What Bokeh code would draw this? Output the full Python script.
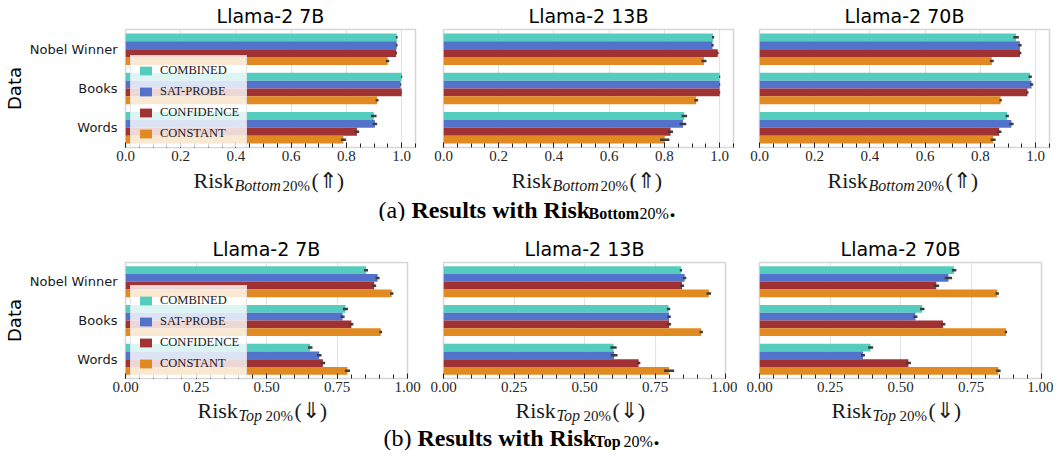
from bokeh.layouts import column, row
from bokeh.models import (ColumnDataSource, FixedTicker, Label, Legend, LegendItem,
                          PrintfTickFormatter, Range1d, SingleIntervalTicker)
from bokeh.plotting import figure
from bokeh.embed import file_html
from bokeh.resources import INLINE

# ---------------- data ----------------
categories = ["Nobel Winner", "Books", "Words"]
methods = ["Combined", "SAT-Probe", "Confidence", "Constant"]
legend_labels = ["COMBINED", "SAT-PROBE", "CONFIDENCE", "CONSTANT"]
colors = ["#55CDBE", "#5272CC", "#A03234", "#E08A21"]
models = ["Llama-2 7B", "Llama-2 13B", "Llama-2 70B"]

# rows = methods (Combined, SAT-Probe, Confidence, Constant); cols = categories
bottom_7b = [[0.982, 1.000, 0.899],
             [0.982, 0.996, 0.903],
             [0.980, 1.000, 0.838],
             [0.949, 0.911, 0.789]]
bottom_7b_err = [[0.003, 0.002, 0.010],
                 [0.003, 0.002, 0.008],
                 [0.003, 0.001, 0.008],
                 [0.006, 0.005, 0.009]]
bottom_13b = [[0.976, 1.000, 0.872],
              [0.974, 1.000, 0.867],
              [0.993, 1.000, 0.822],
              [0.943, 0.915, 0.801]]
bottom_13b_err = [[0.004, 0.002, 0.010],
                  [0.004, 0.002, 0.012],
                  [0.003, 0.002, 0.009],
                  [0.009, 0.007, 0.017]]
bottom_70b = [[0.929, 0.980, 0.897],
              [0.943, 0.985, 0.912],
              [0.943, 0.970, 0.868],
              [0.841, 0.873, 0.846]]
bottom_70b_err = [[0.010, 0.006, 0.006],
                  [0.006, 0.006, 0.008],
                  [0.005, 0.004, 0.008],
                  [0.007, 0.004, 0.009]]

top_7b = [[0.853, 0.780, 0.655],
          [0.894, 0.770, 0.687],
          [0.882, 0.801, 0.700],
          [0.944, 0.905, 0.787]]
top_7b_err = [[0.007, 0.009, 0.008],
              [0.007, 0.007, 0.008],
              [0.007, 0.007, 0.008],
              [0.006, 0.005, 0.009]]
top_13b = [[0.842, 0.798, 0.603],
           [0.855, 0.800, 0.605],
           [0.846, 0.800, 0.692],
           [0.941, 0.914, 0.800]]
top_13b_err = [[0.004, 0.006, 0.011],
               [0.006, 0.006, 0.012],
               [0.007, 0.007, 0.006],
               [0.008, 0.006, 0.018]]
top_70b = [[0.690, 0.577, 0.394],
           [0.670, 0.553, 0.367],
           [0.627, 0.651, 0.528],
           [0.843, 0.874, 0.847]]
top_70b_err = [[0.008, 0.008, 0.009],
               [0.013, 0.007, 0.007],
               [0.010, 0.008, 0.009],
               [0.006, 0.004, 0.008]]

bottom_ticks_fmt = "%.1f"
top_ticks_fmt = "%.2f"

SERIF = "Liberation Serif"
SANS = "DejaVu Sans"


def make_panel(title, vals, errs, xmax, interval, nminor, fmt, frame_w, frame_h,
               left, right, top, bottom, first, legend_loc):
    p = figure(frame_width=frame_w, frame_height=frame_h,
               x_range=Range1d(0, xmax), y_range=Range1d(2.5, -0.5),
               output_backend="svg", toolbar_location=None, title=title,
               min_border_left=left, min_border_right=right,
               min_border_top=top, min_border_bottom=bottom)
    p.title.align = "center"
    p.title.text_font = SANS
    p.title.text_font_size = "19px"
    p.title.text_font_style = "normal"
    p.title.text_color = "black"
    p.title.standoff = 5

    p.outline_line_color = "#d6d6d6"
    p.outline_line_width = 1.5
    p.background_fill_color = "white"
    p.ygrid.visible = False
    p.xgrid.grid_line_color = "#e3e3e3"
    p.xgrid.grid_line_width = 1.2

    p.xaxis.ticker = SingleIntervalTicker(interval=interval, num_minor_ticks=nminor)
    p.xaxis.formatter = PrintfTickFormatter(format=fmt)
    p.xaxis.axis_line_color = None
    p.xaxis.major_tick_in = 5
    p.xaxis.major_tick_out = 0
    p.xaxis.minor_tick_in = 4
    p.xaxis.minor_tick_out = 0
    p.xaxis.major_tick_line_color = "#222222"
    p.xaxis.minor_tick_line_color = "#222222"
    p.xaxis.major_label_text_font = SERIF
    p.xaxis.major_label_text_font_size = "15px"
    p.xaxis.major_label_text_color = "#262626"
    p.xaxis.major_label_standoff = 3

    p.yaxis.axis_line_color = None
    p.yaxis.major_tick_line_color = None
    p.yaxis.minor_tick_line_color = None
    if first:
        p.yaxis.ticker = FixedTicker(ticks=[0, 1, 2])
        p.yaxis.major_label_overrides = {i: c for i, c in enumerate(categories)}
        p.yaxis.major_label_standoff = 2
        p.yaxis.major_label_text_font = SANS
        p.yaxis.major_label_text_font_size = "13px"
        p.yaxis.major_label_text_color = "#1a1a1a"
        p.yaxis.axis_label = "Data"
        p.yaxis.axis_label_text_font = SANS
        p.yaxis.axis_label_text_font_size = "18px"
        p.yaxis.axis_label_text_font_style = "normal"
        p.yaxis.axis_label_text_color = "black"
        p.yaxis.axis_label_standoff = 2
    else:
        p.yaxis.ticker = FixedTicker(ticks=[])
        p.yaxis.major_label_standoff = 0

    items = []
    for j, m in enumerate(methods):
        ys = [i + (j - 1.5) * 0.2 for i in range(len(categories))]
        v = vals[j]
        e = errs[j]
        src = ColumnDataSource(dict(
            y=ys, v=v,
            lo=[a - b for a, b in zip(v, e)],
            hi=[a + b for a, b in zip(v, e)],
            cat=categories, method=[m] * len(categories)))
        r = p.hbar(y="y", left=0, right="v", height=0.2, source=src,
                   fill_color=colors[j], line_color=None)
        p.segment(x0="lo", x1="hi", y0="y", y1="y", source=src,
                  line_color="#3d3d3d", line_width=2.5)
        items.append(LegendItem(label=legend_labels[j], renderers=[r]))

    if first:
        leg = Legend(items=items, location=legend_loc)
        leg.background_fill_color = "white"
        leg.background_fill_alpha = 0.8
        leg.border_line_color = "#cccccc"
        leg.border_line_width = 1
        leg.label_text_font = SERIF
        leg.label_text_font_size = "12.5px"
        leg.label_text_color = "#1a1a1a"
        leg.glyph_width = 15
        leg.glyph_height = 11
        leg.label_height = 15
        leg.spacing = 6
        leg.padding = 7
        leg.label_standoff = 7
        leg.margin = 0
        p.add_layout(leg)
    return p


def text_fig(height, parts):
    c = figure(width=1045, height=height, x_range=Range1d(0, 1045), y_range=Range1d(0, height),
               output_backend="svg", toolbar_location=None, title=None,
               x_axis_location=None, y_axis_location=None, min_border=0)
    c.outline_line_color = None
    c.grid.visible = False
    for text, x, y, size, style, color in parts:
        c.add_layout(Label(x=x, y=y, text=text, text_font=SERIF,
                           text_font_size=f"{size}px", text_font_style=style,
                           text_color=color, text_align="left",
                           text_baseline="alphabetic"))
    return c


row1_vals = [(bottom_7b, bottom_7b_err), (bottom_13b, bottom_13b_err), (bottom_70b, bottom_70b_err)]
row2_vals = [(top_7b, top_7b_err), (top_13b, top_13b_err), (top_70b, top_70b_err)]

row1_geom = [(117, 4), (24, 4), (22, 4)]
row2_geom = [(117, 14), (22, 12), (22, 12)]

row1 = []
for k in range(3):
    l, r = row1_geom[k]
    row1.append(make_panel(models[k], row1_vals[k][0], row1_vals[k][1], 1.05, 0.2, 4,
                           bottom_ticks_fmt, 290, 118, l, r, 28, 20, k == 0, (5, -2)))
row2 = []
for k in range(3):
    l, r = row2_geom[k]
    row2.append(make_panel(models[k], row2_vals[k][0], row2_vals[k][1], 1.0, 0.25, 5,
                           top_ticks_fmt, 282, 116, l, r, 41, 20, k == 0, (5, -1)))

# x-axis labels (composite, drawn as text) + captions
INK = "#1a1a1a"
row1_centers = [267, 585, 901]
row2_centers = [260, 578, 894]
parts_a = []
for cx in row1_centers:
    s = cx - 74
    parts_a += [("Risk", s, 41, 22, "normal", INK),
                ("Bottom", s + 41, 36, 16, "italic", INK),
                ("20%", s + 89, 36, 15, "normal", INK),
                ("(\u21D1)", s + 118, 41, 22, "normal", INK)]
parts_a += [("(a)", 378, 12, 24, "normal", "black"),
            ("Results with Risk", 411, 12, 24, "bold", "black"),
            ("Bottom", 588, 8, 16, "bold", "black"),
            ("20%", 639, 8, 16, "normal", "black"),
            (".", 669, 12, 24, "bold", "black")]
parts_b = []
for cx in row2_centers:
    s = cx - 63
    parts_b += [("Risk", s, 40, 22, "normal", INK),
                ("Top", s + 41, 35, 16, "italic", INK),
                ("20%", s + 68, 35, 15, "normal", INK),
                ("(\u21D3)", s + 97, 40, 22, "normal", INK)]
parts_b += [("(b)", 383, 13, 24, "normal", "black"),
            ("Results with Risk", 417, 13, 24, "bold", "black"),
            ("Top", 594, 9, 16, "bold", "black"),
            ("20%", 623, 9, 16, "normal", "black"),
            (".", 653, 13, 24, "bold", "black")]

cap_a = text_fig(54, parts_a)
cap_b = text_fig(52, parts_b)

layout = column(row(*row1), cap_a, row(*row2), cap_b)

with open("out.html", "w") as f:
    f.write(file_html(layout, INLINE))
